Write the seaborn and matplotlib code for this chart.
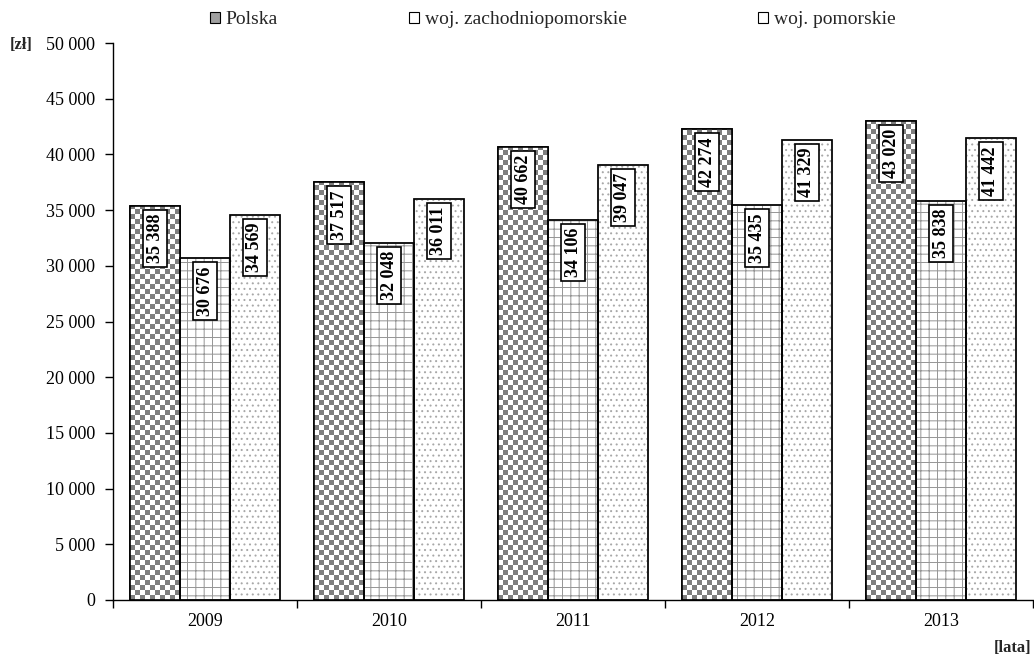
import numpy as np
import pandas as pd
import matplotlib
matplotlib.use("Agg")
import matplotlib.pyplot as plt
from matplotlib.patches import Rectangle, Patch
from matplotlib.ticker import FuncFormatter, FixedLocator
import seaborn as sns

# ---- data ----
years = ["2009", "2010", "2011", "2012", "2013"]
regions = ["Polska", "woj. zachodniopomorskie", "woj. pomorskie"]
polska = [35388, 37517, 40662, 42274, 43020]
zachodniopomorskie = [30676, 32048, 34106, 35435, 35838]
pomorskie = [34569, 36011, 39047, 41329, 41442]
y_ticks = list(range(0, 50001, 5000))

df = pd.DataFrame({
    "rok": years * 3,
    "region": [regions[0]] * 5 + [regions[1]] * 5 + [regions[2]] * 5,
    "wartosc": polska + zachodniopomorskie + pomorskie,
})

sns.set_theme(style="ticks")
plt.rcParams["font.family"] = ["Liberation Serif", "DejaVu Serif"]
plt.rcParams["hatch.linewidth"] = 0.7


def fmt(v):
    return f"{int(v):,}".replace(",", " ")


W, H, DPI = 1034, 658, 100
fig = plt.figure(figsize=(W / DPI, H / DPI), dpi=DPI)
ax = fig.add_axes([113 / W, 1 - 600 / H, 920 / W, 557 / H])

sns.barplot(data=df, x="rok", y="wartosc", hue="region", hue_order=regions,
            order=years, palette=["white"] * 3, saturation=1, width=0.815,
            dodge=True, legend=False, ax=ax, edgecolor="black", linewidth=1.2)

ax.set_xlim(-0.5, 4.5)
ax.set_ylim(0, 50000)

containers = ax.containers
# pixel -> data scales for the checkerboard texture
px_x = 1 / 184.0
px_y = 50000 / 557.0
sq = 5  # checker square in pixels
dark = np.array([0.50, 0.50, 0.50])
light = np.array([1.0, 1.0, 1.0])

for ci, cont in enumerate(containers):
    for p in cont.patches:
        x0, y0 = p.get_x(), p.get_y()
        w, h = p.get_width(), p.get_height()
        p.set_facecolor("white")
        if ci == 0:
            ncols = int(np.ceil(w / (sq * px_x)))
            nrows = int(np.ceil(h / (sq * px_y)))
            ii, jj = np.indices((nrows, ncols))
            mask = ((ii + jj) % 2)[..., None]
            img = np.where(mask == 1, light, dark)
            im = ax.imshow(img, extent=(x0, x0 + ncols * sq * px_x,
                                        y0, y0 + nrows * sq * px_y),
                           origin="lower", aspect="auto", interpolation="nearest",
                           zorder=1.5)
            im.set_clip_path(p)
        elif ci == 1:
            p.set_edgecolor("#959595")
            p.set_hatch("++")
        else:
            p.set_edgecolor("#a8a8a8")
            p.set_hatch("...")
        # black outline on top
        ax.add_patch(Rectangle((x0, y0), w, h, fill=False, edgecolor="black",
                               linewidth=1.2, zorder=2.5))
        # value label
        ax.annotate(fmt(h), xy=(x0 + w / 2, y0 + h), xytext=(0, -8),
                    textcoords="offset pixels", rotation=90, ha="center", va="top",
                    fontsize=13, fontweight="bold", color="black", zorder=4,
                    bbox=dict(boxstyle="square,pad=0.22", facecolor="white",
                              edgecolor="black", linewidth=1.2))

ax.set_xlim(-0.5, 4.5)
ax.set_ylim(0, 50000)

# axes styling
for s in ["top", "right"]:
    ax.spines[s].set_visible(False)
for s in ["left", "bottom"]:
    ax.spines[s].set_color("black")
    ax.spines[s].set_linewidth(1.0)

ax.set_yticks(y_ticks)
ax.yaxis.set_major_formatter(FuncFormatter(lambda v, pos: fmt(v)))
ax.tick_params(axis="y", direction="out", length=6, width=1, color="black",
               labelsize=13, pad=7, labelcolor="black")
ax.set_xticks(range(len(years)))
ax.set_xticklabels(years)
ax.tick_params(axis="x", which="major", length=0, labelsize=13, pad=9,
               labelcolor="black")
ax.xaxis.set_minor_locator(FixedLocator(np.arange(-0.5, len(years), 1.0)))
ax.tick_params(axis="x", which="minor", direction="out", length=6, width=1,
               color="black")
ax.set_xlabel("")
ax.set_ylabel("")
ax.grid(False)
ax.set_facecolor("white")

# unit labels
fig.text(10 / W, 1 - 45 / H, "[zł]", fontsize=12, fontweight="bold",
         ha="left", va="center")
fig.text(1031 / W, 1 - 648 / H, "[lata]", fontsize=12, fontweight="bold",
         ha="right", va="center")

# legends (one per entry, placed like the original)
handles = [
    Patch(facecolor="#a0a0a0", edgecolor="black", linewidth=0.8),
    Patch(facecolor="white", edgecolor="black", linewidth=0.8),
    Patch(facecolor="white", edgecolor="black", linewidth=0.8),
]
leg_x = [210, 409, 758]
for hnd, lab, lx in zip(handles, regions, leg_x):
    fig.legend([hnd], [lab], loc="center left", bbox_to_anchor=(lx / W, 1 - 20 / H),
               frameon=False, fontsize=14, handlelength=0.5, handleheight=0.5,
               handletextpad=0.3, borderpad=0, borderaxespad=0)

fig.savefig("out.png", dpi=DPI, facecolor="white")
